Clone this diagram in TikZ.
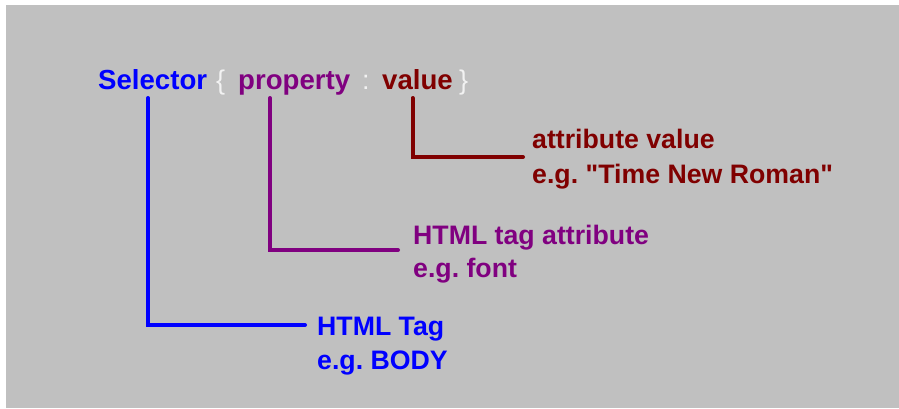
\documentclass[tikz,border=0pt]{standalone}
\usepackage{fontspec}
% a family without TeX ligature mapping keeps straight double quotes
\newfontfamily\diagfont{Liberation Sans}
\frenchspacing
\definecolor{panel}{HTML}{C0C0C0}
\definecolor{selblue}{HTML}{0000FF}
\definecolor{proppurple}{HTML}{800080}
\definecolor{valred}{HTML}{800000}
\definecolor{punct}{HTML}{F2F2F2}
\tikzset{
  word/.style={anchor=base west, inner sep=0pt, font=\diagfont\fontsize{27.6}{32}\selectfont\bfseries},
  punctmark/.style={anchor=base west, inner sep=0pt, font=\diagfont\fontsize{27}{32}\selectfont, text=punct},
  expl/.style={anchor=base west, inner sep=0pt, font=\diagfont\fontsize{26.7}{32}\selectfont\bfseries},
  leader/.style={line width=4pt, line cap=round, line join=miter}
}
\begin{document}
\begin{tikzpicture}[x=1pt, y=-1pt]
  % page and grey panel
  \useasboundingbox (0,0) rectangle (899,408);
  \fill[white] (0,0) rectangle (899,408);
  \fill[panel] (6,5) rectangle (899,408);

  % the rule: Selector { property : value }
  \node[word, text=selblue] (sel) at (98,89) {Selector};
  \node[punctmark] (lbrace) at (216,89) {\{};
  \node[word, text=proppurple] (prop) at (238,89) {property};
  \node[punctmark] (colon) at (362,89) {:};
  \node[word, text=valred] (val) at (382,89) {value};
  \node[punctmark] (rbrace) at (459,89) {\}};

  % explanations
  \node[expl, text=valred] (attr) at (532,148) {attribute value};
  \node[expl, text=valred] (attrex) at (532,183) {e.g. "Time New Roman"};
  \node[expl, text=proppurple] (tagattr) at (413,244) {HTML tag attribute};
  \node[expl, text=proppurple] (tagattrex) at (413,277) {e.g. font};
  \node[expl, text=selblue] (tag) at (317,335) {HTML Tag};
  \node[expl, text=selblue] (tagex) at (317,369) {e.g. BODY};

  % leader line ends
  \coordinate (selfoot) at (148,98);
  \coordinate (propfoot) at (270,98);
  \coordinate (valfoot) at (412.5,98);
  \coordinate (tagend) at (305,325);
  \coordinate (tagattrend) at (398,250);
  \coordinate (attrend) at (523,157);

  % leader lines
  \draw[leader, selblue] (selfoot) |- (tagend);
  \draw[leader, proppurple] (propfoot) |- (tagattrend);
  \draw[leader, valred] (valfoot) |- (attrend);
\end{tikzpicture}
\end{document}
